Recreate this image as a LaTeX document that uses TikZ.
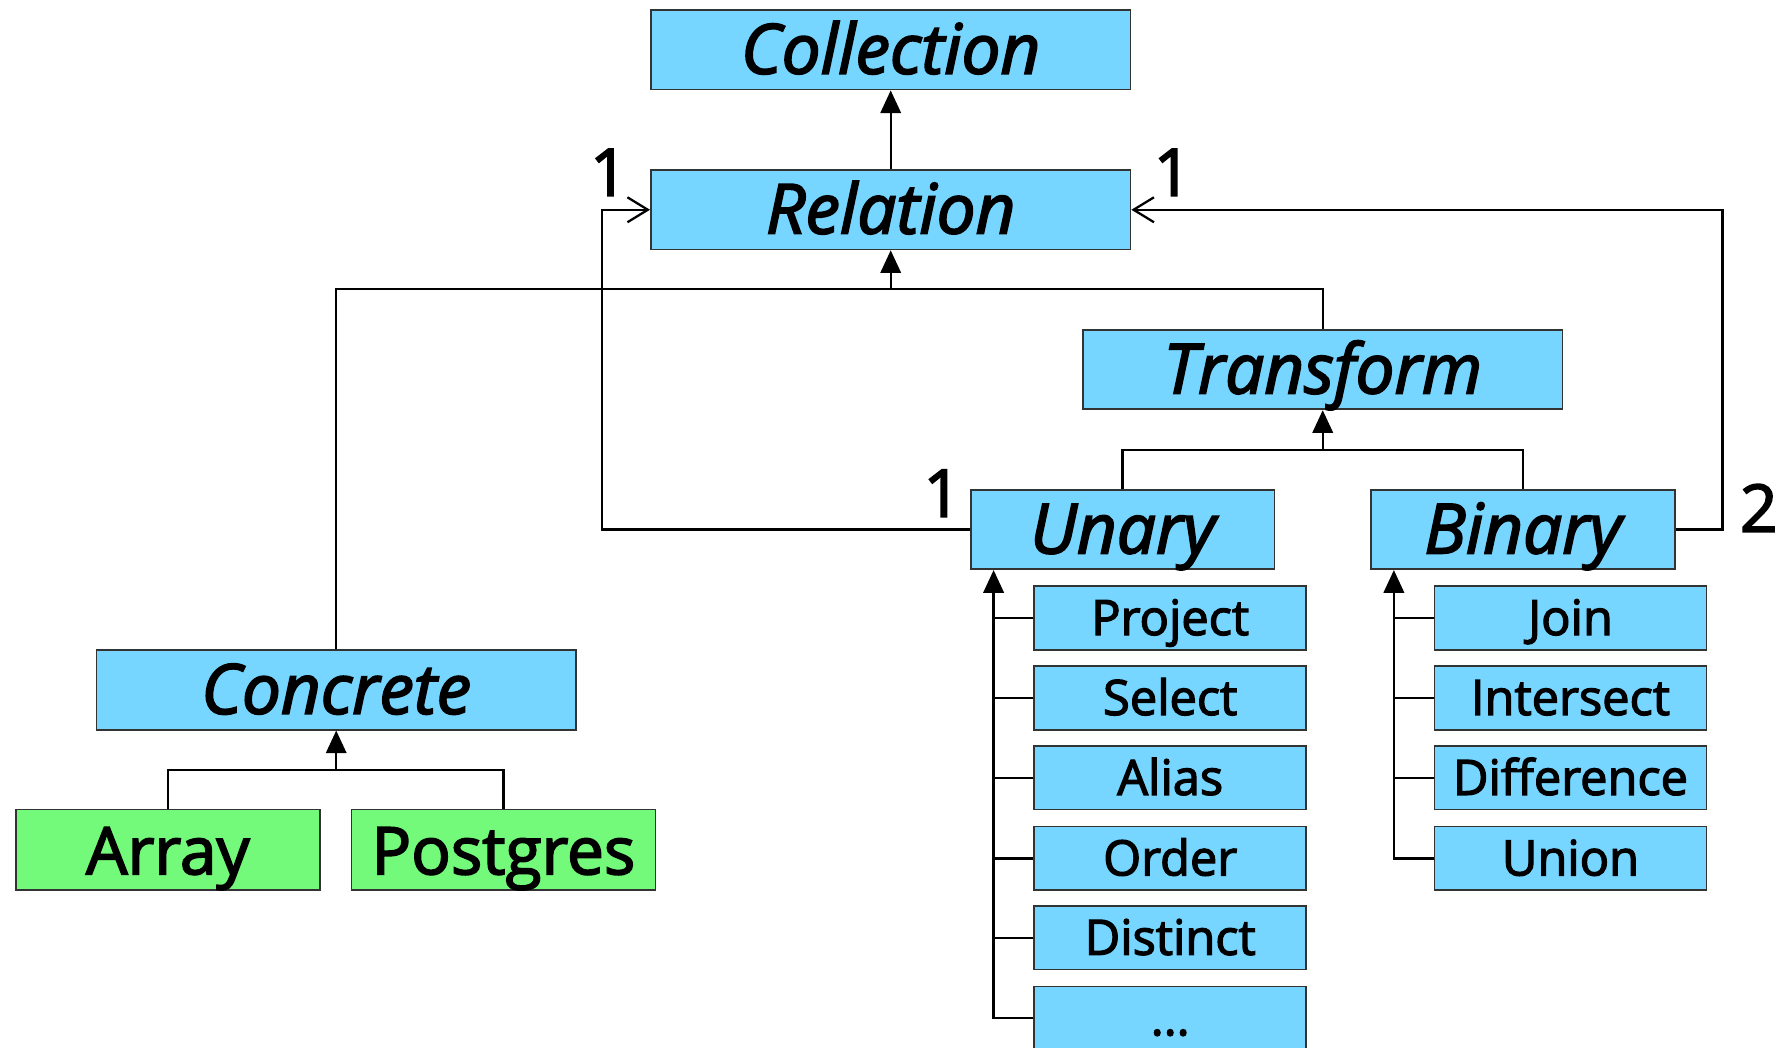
\documentclass[tikz,border=0pt]{standalone}
\usepackage{fontspec}
\setmainfont{Open Sans}[FakeBold=2.6]
\usetikzlibrary{arrows.meta}
\definecolor{boxblue}{RGB}{118,214,255}
\definecolor{boxgreen}{RGB}{115,250,122}
\tikzset{
  base/.style={draw=black!80,line width=0.75pt,inner sep=0pt,anchor=center},
  big/.style={base,fill=boxblue,minimum width=211.5pt,minimum height=35pt,text height=24pt,text depth=3pt,font=\fontsize{30.5}{32}\selectfont\itshape},
  mid/.style={base,fill=boxblue,minimum width=134pt,minimum height=35pt,text height=24pt,text depth=3pt,font=\fontsize{30.5}{32}\selectfont\itshape},
  leaf/.style={base,fill=boxgreen,minimum width=134pt,minimum height=35.5pt,text height=24pt,text depth=2.5pt,font=\fontsize{29}{31}\selectfont},
  small/.style={base,fill=boxblue,minimum width=120pt,minimum height=28pt,text height=17.5pt,text depth=2.5pt,font=\fontsize{21.5}{24}\selectfont},
  lbl/.style={inner sep=0pt,font=\fontsize{29}{31}\selectfont},
  conn/.style={line width=1pt,draw=black},
  gen/.style={conn,-{Triangle[length=10pt,width=9pt]}},
  assoc/.style={conn,-{Straight Barb[length=9pt,width=11pt,line width=1pt]}},
}
\begin{document}
\begin{tikzpicture}[x=0.5pt,y=-0.5pt]
\useasboundingbox (0,0) rectangle (1568,924);
\clip (0,0) rectangle (1568,924);
% main nodes
\node[big] (coll) at (785.5,44) {Collection};
\node[big] (rel) at (785.5,185) {Relation};
\node[big] (trans) at (1166.5,326) {Transform};
\node[big] (conc) at (296.5,608.5) {Concrete};
\node[mid] (unary) at (990,467) {Unary};
\node[mid] (binary) at (1343,467) {Binary};
\node[leaf] (array) at (148,749.5) {Array};
\node[leaf] (postgres) at (444,749.5) {Postgres};
% unary children
\node[small] (u1) at (1032,545) {Project};
\node[small] (u2) at (1032,615.5) {Select};
\node[small] (u3) at (1032,686) {Alias};
\node[small] (u4) at (1032,757) {Order};
\node[small] (u5) at (1032,827) {Distinct};
\node[small] (u6) at (1032,898) {...};
% binary children
\node[small] (b1) at (1385,545) {Join};
\node[small] (b2) at (1385,615.5) {Intersect};
\node[small] (b3) at (1385,686) {Difference};
\node[small] (b4) at (1385,757) {Union};
% labels
\node[lbl] (l1) at (537,152) {1};
\node[lbl] (l2) at (1034,152) {1};
\node[lbl] (l3) at (831,435) {1};
\node[lbl] (l4) at (1551,448) {2};
% junctions
\coordinate (j1) at (785.5,255);
\coordinate (j2) at (1166.5,397);
\coordinate (j3) at (296.5,679);
\coordinate (ut) at ([xshift=10.5pt]unary.south west);
\coordinate (bt) at ([xshift=10.5pt]binary.south west);
\coordinate (la) at (531,0);
\coordinate (ra) at (1519,0);
% connectors
\draw[gen] (rel.north) -- (coll.south);
\draw[conn] (conc.north) |- (j1) -| (trans.north);
\draw[gen] (j1) -- (rel.south);
\draw[conn] (unary.north) |- (j2) -| (binary.north);
\draw[gen] (j2) -- (trans.south);
\draw[conn] (array.north) |- (j3) -| (postgres.north);
\draw[gen] (j3) -- (conc.south);
\draw[gen] (u6.west) -| (ut);
\foreach \n in {u1,u2,u3,u4,u5} \draw[conn] (\n.west) -- (\n.west -| ut);
\draw[gen] (b4.west) -| (bt);
\foreach \n in {b1,b2,b3} \draw[conn] (\n.west) -- (\n.west -| bt);
\draw[assoc] (unary.west) -- (unary.west -| la) |- (rel.west);
\draw[assoc] (binary.east) -- (binary.east -| ra) |- (rel.east);
\end{tikzpicture}
\end{document}
